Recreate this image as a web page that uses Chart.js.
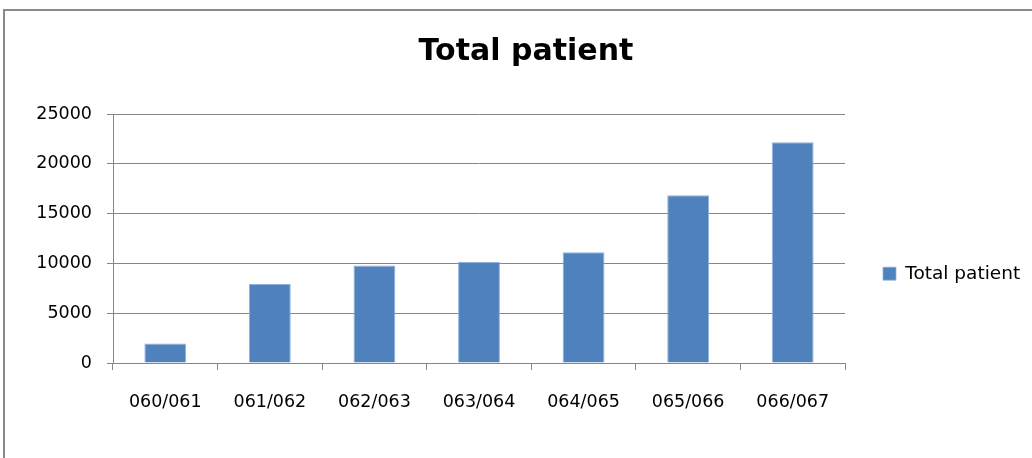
<!DOCTYPE html>
<html>
<head>
<meta charset="utf-8">
<script src="https://cdn.jsdelivr.net/npm/chart.js@4/dist/chart.umd.min.js"></script>
<style>
  html, body { margin: 0; padding: 0; background: #fff; overflow: hidden; }
  #frame { position: absolute; left: 3px; top: 9px; width: 1100px; height: 600px; border: 2px solid #8a8a8a; box-sizing: border-box; }
  #wrap { position: absolute; left: 0; top: 0; width: 1032px; height: 458px; }
</style>
</head>
<body>
<div id="frame"></div>
<div id="wrap"><canvas id="c" width="1032" height="458"></canvas></div>
<script>
const categories = ['060/061', '061/062', '062/063', '063/064', '064/065', '065/066', '066/067'];
const totalPatient = [1970, 7920, 9790, 10130, 11130, 16850, 22170];
const seriesName = 'Total patient';
const chartTitle = 'Total patient';
const yTicks = [0, 5000, 10000, 15000, 20000, 25000];

const FONT = '"DejaVu Sans", Verdana, sans-serif';

const legendWidthPlugin = {
  id: 'legendWidth',
  afterInit(chart) {
    const lg = chart.legend;
    if (lg && !lg._wrapped) {
      const orig = lg.fit;
      lg.fit = function () { orig.call(this); this.width = 187; };
      lg._wrapped = true;
    }
  }
};

new Chart(document.getElementById('c'), {
  type: 'bar',
  data: {
    labels: categories,
    datasets: [{
      label: seriesName,
      data: totalPatient,
      backgroundColor: '#4F81BD',
      borderColor: '#8FB1DB',
      borderWidth: { top: 1, left: 1, right: 1, bottom: 0 },
      barPercentage: 0.4,
      categoryPercentage: 1.0
    }]
  },
  options: {
    responsive: false,
    animation: false,
    devicePixelRatio: 1,
    layout: { padding: { left: 20, right: 0, top: 0, bottom: 0 } },
    plugins: {
      title: {
        display: true,
        text: chartTitle,
        color: '#000',
        font: { family: FONT, size: 30, weight: 'bold', lineHeight: 1.2 },
        padding: { top: 34, bottom: 44 }
      },
      legend: {
        position: 'right',
        align: 'center',
        title: { display: true, text: '', font: { size: 12, lineHeight: 1.2 }, padding: { top: 0, bottom: 75 } },
        labels: {
          boxWidth: 13,
          boxHeight: 13,
          padding: 38,
          color: '#000',
          font: { family: FONT, size: 18.5 }
        }
      },
      tooltip: { enabled: false }
    },
    scales: {
      x: {
        offset: true,
        grid: { offset: true, drawOnChartArea: false, tickLength: 7, color: '#868686' },
        border: { color: '#868686', width: 1 },
        ticks: { color: '#000', font: { family: FONT, size: 17.5 }, padding: 22, maxRotation: 0 },
        afterFit(scale) { scale.height = 95; }
      },
      y: {
        min: 0,
        max: 25000,
        afterBuildTicks(scale) { scale.ticks = yTicks.map(v => ({ value: v })); },
        grid: { color: '#868686', tickLength: 6 },
        border: { color: '#868686', width: 1 },
        ticks: { color: '#000', font: { family: FONT, size: 17.5 }, padding: 15, callback: v => String(v) },
        afterFit(scale) { scale.width = 93; }
      }
    }
  },
  plugins: [legendWidthPlugin]
});
</script>
</body>
</html>
